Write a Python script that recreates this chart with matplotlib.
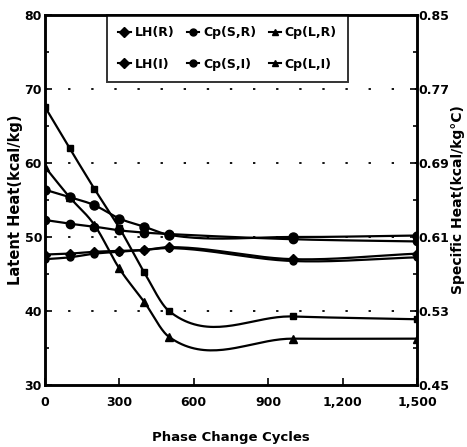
import numpy as np
import matplotlib
matplotlib.use('Agg')
import matplotlib.pyplot as plt
from matplotlib.lines import Line2D

# data
cycles = [0, 100, 200, 300, 400, 500, 1000, 1500]

# latent heat, kcal/kg (left axis)
lh_r = [56.4, 55.4, 54.3, 52.5, 51.4, 50.3, 50.0, 50.2]
lh_i = [52.3, 51.8, 51.4, 50.9, 50.6, 50.4, 49.7, 49.4]

# specific heat, kcal/kg C (right axis)
cp_s_r = [0.591, 0.592, 0.594, 0.595, 0.596, 0.599, 0.586, 0.592]
cp_s_i = [0.586, 0.588, 0.592, 0.594, 0.596, 0.598, 0.584, 0.588]
cp_l_r = [0.751, 0.706, 0.662, 0.620, 0.572, 0.530, 0.524, 0.521]
cp_l_i = [0.686, 0.653, 0.623, 0.576, 0.540, 0.502, 0.500, 0.500]

xticks = [0, 300, 600, 900, 1200, 1500]
xticklabels = ['0', '300', '600', '900', '1,200', '1,500']
lh_ticks = [30, 40, 50, 60, 70, 80]
cp_ticks = [0.45, 0.53, 0.61, 0.69, 0.77, 0.85]


def smooth(x, y, n=40):
    # cubic hermite through the points (tangent = mean of the two chord slopes)
    x = np.asarray(x, float)
    y = np.asarray(y, float)
    k = len(x)
    d = np.diff(y) / np.diff(x)
    m = np.zeros(k)
    m[0] = d[0]
    m[-1] = d[-1]
    m[1:-1] = (d[:-1] + d[1:]) / 2
    xs_all, ys_all = [], []
    for i in range(k - 1):
        h = x[i + 1] - x[i]
        t = np.linspace(0, 1, n)
        h00 = 2 * t**3 - 3 * t**2 + 1
        h10 = t**3 - 2 * t**2 + t
        h01 = -2 * t**3 + 3 * t**2
        h11 = t**3 - t**2
        xs_all.append(x[i] + t * h)
        ys_all.append(h00 * y[i] + h10 * h * m[i] + h01 * y[i + 1] + h11 * h * m[i + 1])
    return np.concatenate(xs_all), np.concatenate(ys_all)


plt.rcParams['font.family'] = 'DejaVu Sans'
plt.rcParams['font.weight'] = 'bold'
plt.rcParams['axes.labelweight'] = 'bold'

fig = plt.figure(figsize=(4.67, 4.47), dpi=100)
ax = fig.add_axes([0.096, 0.139, 0.797, 0.827])
ax2 = ax.twinx()

lw = 1.6
for vals, mk, ms in [(lh_r, 'o', 6.5), (lh_i, 'o', 6)]:
    xs, ys = smooth(cycles, vals)
    ax.plot(xs, ys, color='black', lw=lw)
    ax.plot(cycles, vals, ls='none', marker=mk, ms=ms, color='black')

for vals, mk, ms in [(cp_s_r, 'D', 5), (cp_s_i, 'o', 5),
                     (cp_l_r, 's', 4.5), (cp_l_i, '^', 5.5)]:
    xs, ys = smooth(cycles, vals)
    ax2.plot(xs, ys, color='black', lw=lw)
    ax2.plot(cycles, vals, ls='none', marker=mk, ms=ms, color='black')

# dotted grid
for g in [40, 50, 60, 70]:
    ax.axhline(g, color='black', lw=1.3, ls=(0, (1.3, 11.5)), zorder=0)

ax.set_xlim(0, 1500)
ax.set_ylim(30, 80)
ax2.set_ylim(0.45, 0.85)
ax.set_xticks(xticks)
ax.set_xticklabels(xticklabels)
ax.set_yticks(lh_ticks)
ax.set_yticks([35, 45, 55, 65, 75], minor=True)
ax2.set_yticks(cp_ticks)
ax2.set_yticklabels(['0.45', '0.53', '0.61', '0.69', '0.77', '0.85'])
ax2.set_yticks([0.49, 0.57, 0.65, 0.73, 0.81], minor=True)

for a in (ax, ax2):
    a.tick_params(which='both', direction='in', width=1.2, labelsize=9)
    a.tick_params(which='major', length=5)
    a.tick_params(which='minor', length=3)
    for s in a.spines.values():
        s.set_linewidth(1.8)
ax.tick_params(axis='y', pad=2)
ax2.tick_params(axis='y', pad=1)
ax.tick_params(axis='x', pad=8)

ax.set_ylabel('Latent Heat(kcal/kg)', fontsize=10.5, labelpad=1)
ax2.set_ylabel('Specific Heat(kcal/kg\u00b0C)', fontsize=10, labelpad=1)
ax.set_xlabel('Phase Change Cycles', fontsize=9.5, labelpad=16)

names = ['LH(R)', 'LH(I)', 'Cp(S,R)', 'Cp(S,I)', 'Cp(L,R)', 'Cp(L,I)']
marks = ['D', 'D', 'o', 'o', '^', '^']
handles = [Line2D([0], [0], color='black', lw=1.5, marker=m, ms=5)
           for m in marks]
leg = ax.legend(handles, names, ncol=3, loc='upper left',
                bbox_to_anchor=(0.167, 1.0), fontsize=9, frameon=True,
                fancybox=False, edgecolor='black', handlelength=1.0,
                handletextpad=0.3, columnspacing=1.0, borderpad=0.9,
                labelspacing=1.45, borderaxespad=0)
leg.get_frame().set_linewidth(1.4)
leg.set_zorder(10)

fig.savefig('out.png', dpi=100)
